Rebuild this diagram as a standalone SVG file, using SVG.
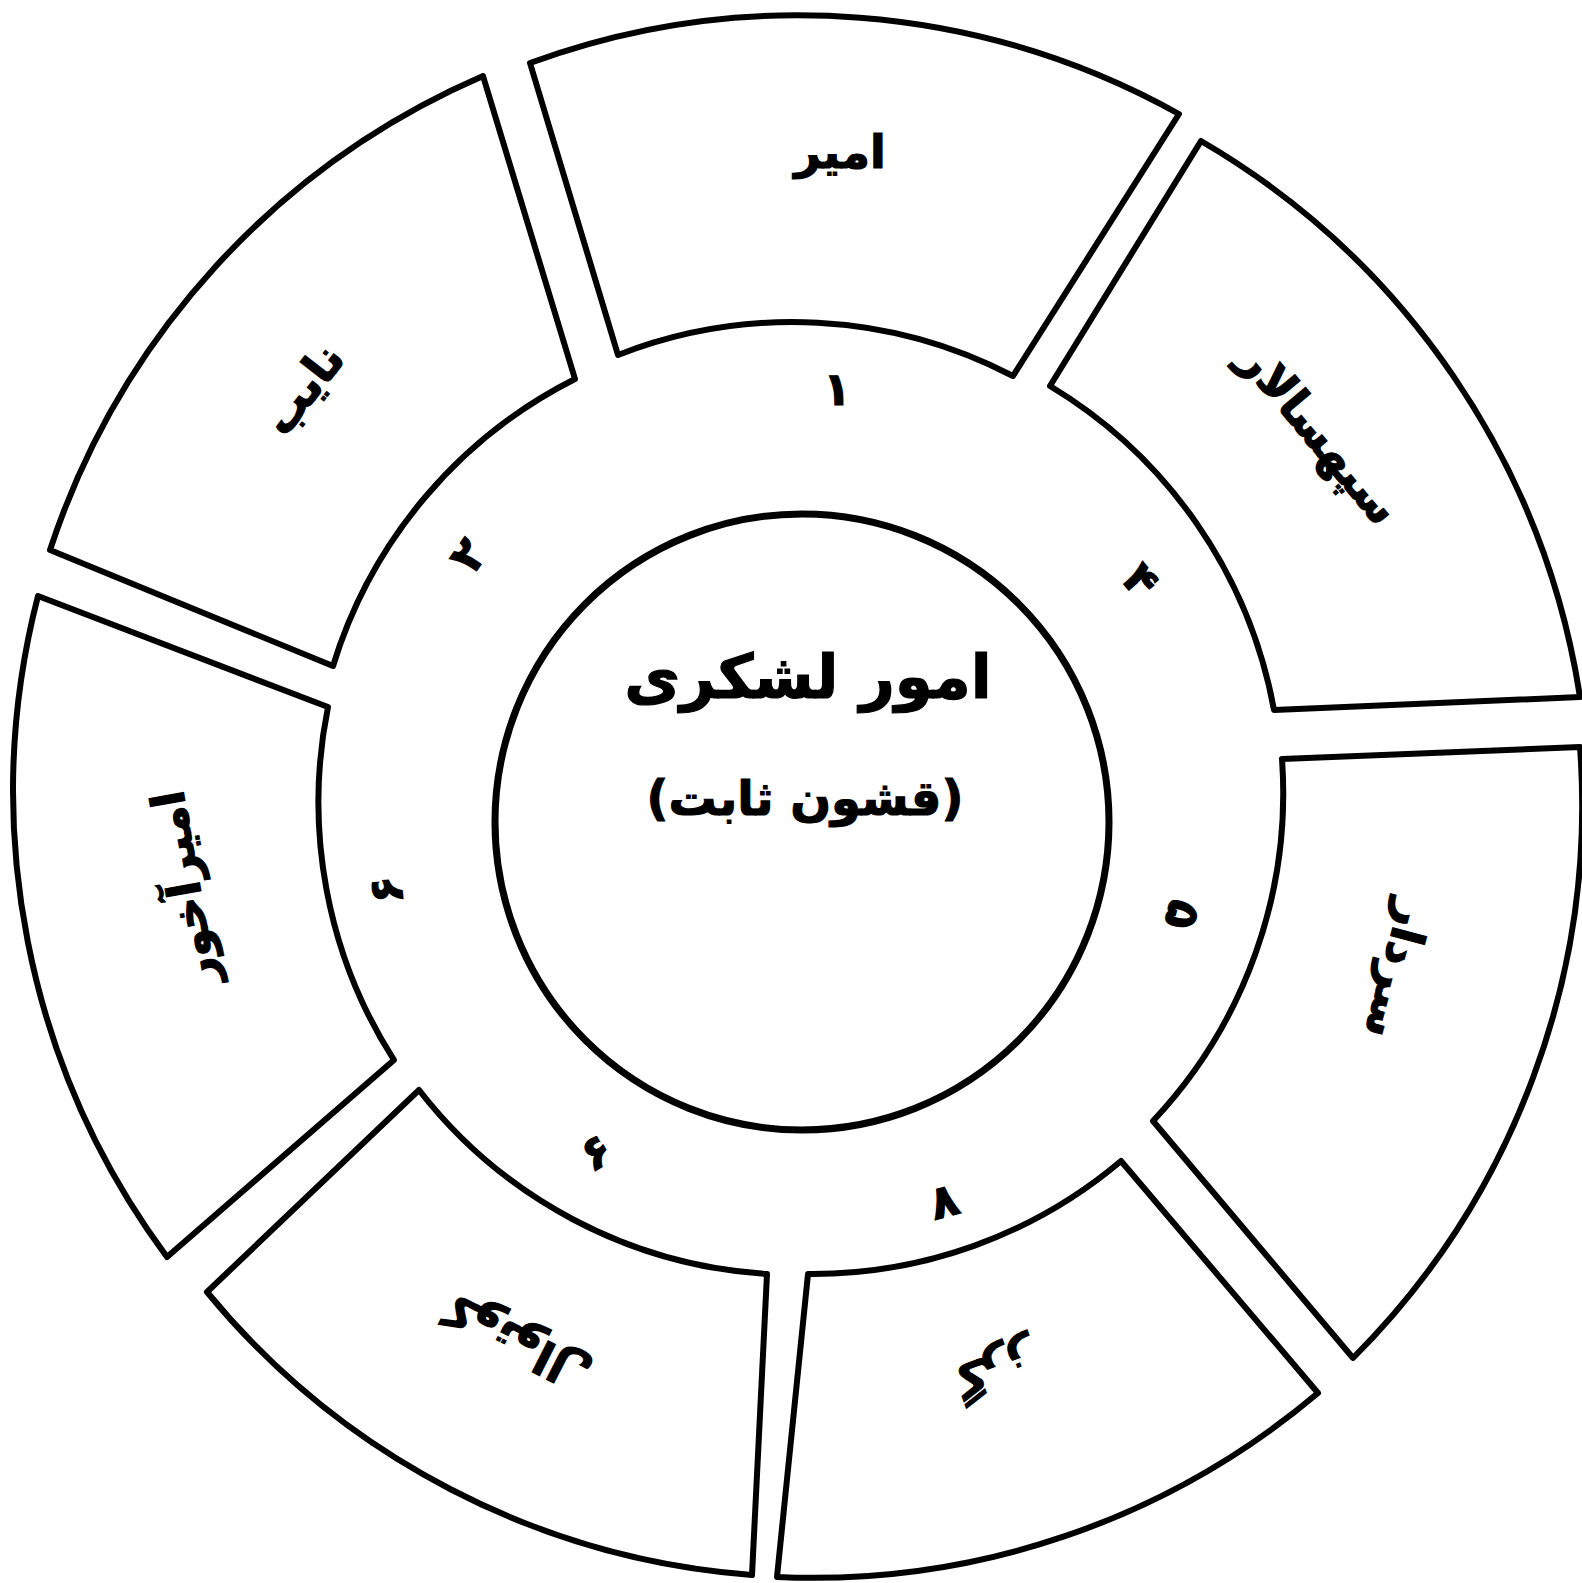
<svg xmlns="http://www.w3.org/2000/svg" width="1582" height="1583" viewBox="0 0 1582 1583">
<style>
.seg{fill:#fff;stroke:#000;stroke-width:6;stroke-linejoin:round}
.lbl{font-family:"DejaVu Sans",sans-serif;font-weight:bold;font-size:46px;fill:#000;stroke:#000;stroke-width:1.2;text-anchor:middle;dominant-baseline:central}
.num{font-family:"DejaVu Sans",sans-serif;font-weight:bold;font-size:46px;fill:#000;stroke:#000;stroke-width:1.2;text-anchor:middle;dominant-baseline:central}
.ctr{font-family:"DejaVu Sans",sans-serif;font-weight:bold;fill:#000;stroke:#000;stroke-width:1.2;text-anchor:middle;dominant-baseline:central}
</style>
<rect width="1582" height="1583" fill="#fff"/>
<g id="connectors"></g>
<g id="seg-amir">
<path class="seg" d="M530,63 A782,782 0 0 1 1179,114 L1013,376 A478,478 0 0 0 618,355 Z"/>
<text class="lbl" x="840" y="152">امیر</text>
</g>
<g id="seg-sepahsalar">
<path class="seg" d="M1201,141 A782,782 0 0 1 1580,697 L1274,710 A478,478 0 0 0 1050,386 Z"/>
<text class="lbl" transform="translate(1320,434) rotate(50)">سپهسالار</text>
</g>
<g id="seg-sardar">
<path class="seg" d="M1580,747 A782,782 0 0 1 1353,1358 L1153,1121 A478,478 0 0 0 1282,759 Z"/>
<text class="lbl" transform="translate(1398,970) rotate(105)">سردار</text>
</g>
<g id="seg-gorz">
<path class="seg" d="M1318,1393 A782,782 0 0 1 777,1577 L808,1274 A478,478 0 0 0 1121,1161 Z"/>
<text class="lbl" transform="translate(996,1370) rotate(160)">گرز</text>
</g>
<g id="seg-kotval">
<path class="seg" d="M752,1575 A782,782 0 0 1 207,1292 L419,1090 A478,478 0 0 0 767,1274 Z"/>
<text class="lbl" transform="translate(517,1343) rotate(207)">کوتوال</text>
</g>
<g id="seg-amirakhor">
<path class="seg" d="M167,1257 A782,782 0 0 1 38,596 L328,707 A478,478 0 0 0 394,1060 Z"/>
<text class="lbl" font-size="44" transform="translate(184,888) rotate(-100)">امیرآخور</text>
</g>
<g id="seg-nayeb">
<path class="seg" d="M50,550 A782,782 0 0 1 483,76 L575,379 A478,478 0 0 0 333,666 Z"/>
<text class="lbl" transform="translate(303,389) rotate(-52)">نایب</text>
</g>
<g id="numbers">
<text class="num" x="837" y="389">۱</text>
<text class="num" transform="translate(468,555) rotate(-55)">۲</text>
<text class="num" transform="translate(1141,580) rotate(50)">۴</text>
<text class="num" transform="translate(1183,915) rotate(105)">۵</text>
<text class="num" transform="translate(386,890) rotate(-95)">۶</text>
<text class="num" transform="translate(596,1152) rotate(-30)">۶</text>
<text class="num" transform="translate(944,1201) rotate(-15)">۸</text>
</g>
<g id="center">
<ellipse cx="802" cy="822" rx="307" ry="308" fill="#fff" stroke="#000" stroke-width="7"/>
<text class="ctr" x="808" y="676" font-size="61">امور لشکری</text>
<text class="ctr" x="805" y="798" font-size="48">(قشون ثابت)</text>
</g>
</svg>
